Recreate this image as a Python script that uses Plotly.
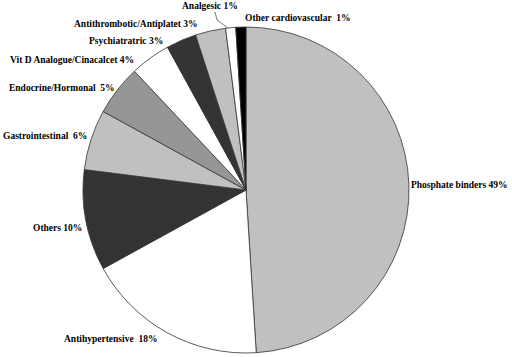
import plotly.graph_objects as go

categories = ["Phosphate binders", "Antihypertensive", "Others", "Gastrointestinal",
              "Endocrine/Hormonal", "Vit D Analogue/Cinacalcet", "Psychiatratric",
              "Antithrombotic/Antiplatet", "Analgesic", "Other cardiovascular"]
values = [49, 18, 10, 6, 5, 4, 3, 3, 1, 1]
label_text = ["Phosphate binders 49%", "Antihypertensive  18%", "Others 10%",
              "Gastrointestinal  6%", "Endocrine/Hormonal  5%",
              "Vit D Analogue/Cinacalcet 4%", "Psychiatratric 3%",
              "Antithrombotic/Antiplatet 3%", "Analgesic 1%", "Other cardiovascular  1%"]
colors = ["#c0c0c0", "#ffffff", "#333333", "#c0c0c0", "#969696",
          "#ffffff", "#333333", "#c0c0c0", "#ffffff", "#000000"]

W, H = 512, 357
# label anchor positions (x, center y, anchor) in pixels
label_pos = [(510, 185, "right"), (62, 339, "left"), (31, 228, "left"), (1, 136, "left"),
             (7, 88, "left"), (8, 60, "left"), (87, 41, "left"), (72, 24, "left"),
             (180, 6, "left"), (243, 18, "left")]

FONT = "'Liberation Serif', 'Times New Roman', Times, serif"

fig = go.Figure(go.Pie(
    labels=categories, values=values, sort=False, direction="clockwise", rotation=0,
    marker=dict(colors=colors, line=dict(color="#333333", width=0.8)),
    textinfo="none", hoverinfo="label+percent", showlegend=False,
    domain=dict(x=[83 / W, 409 / W], y=[1 - 353 / H, 1 - 27 / H]),
))

for txt, (px, py, anc) in zip(label_text, label_pos):
    fig.add_annotation(text="<b>" + txt + "</b>", x=px / W, y=1 - py / H,
                       xref="paper", yref="paper", xanchor=anc, yanchor="middle",
                       showarrow=False,
                       font=dict(family=FONT, size=9.5, color="#000000"))

# leader line for Analgesic
fig.add_shape(type="path", xref="paper", yref="paper",
              path=f"M {215/W} {1-12/H} L {217/W} {1-20/H} L {228/W} {1-28/H}",
              line=dict(color="#555555", width=0.8))

fig.update_layout(width=W, height=H, margin=dict(l=0, r=0, t=0, b=0),
                  paper_bgcolor="white", plot_bgcolor="white",
                  font=dict(family=FONT))
fig.write_html("out.html", config={"displayModeBar": False},
               post_script="document.body.style.margin='0';")
